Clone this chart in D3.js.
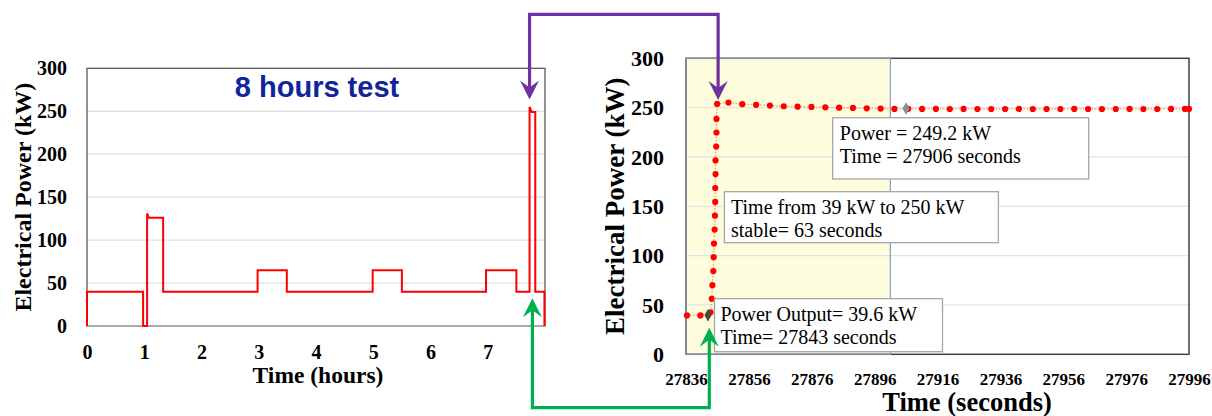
<!DOCTYPE html>
<html><head><meta charset="utf-8">
<script src="https://cdn.jsdelivr.net/npm/d3@7"></script>
<style>body{margin:0;background:#fff}svg{display:block}</style>
</head><body><svg id="c" width="1212" height="416"></svg>
<script>
// ---------- data: left chart (8 hours test) ----------
const leftHours = [0,0,0.98,0.98,1.05,1.05,1.08,1.33,1.33,2.98,2.98,3.49,3.49,4.99,4.99,5.50,5.50,6.97,6.97,7.50,7.50,7.73,7.73,7.77,7.83,7.83,7.99,7.99];
const leftPower = [0,40,40,0,0,131,126,126,40,40,65,65,40,40,65,65,40,40,65,65,40,40,255,249,249,40,40,0];
const leftXTicks = [0,1,2,3,4,5,6,7];
const leftYTicks = [0,50,100,150,200,250,300];

// ---------- data: right chart (zoom on the step) ----------
const rightTime = [27836.3,27840.6,27843.8,27844.2,27844.4,27844.7,27844.8,27844.9,27845.1,27845.2,27845.3,27845.3,27845.4,27845.4,27845.6,27845.7,27845.7,27845.9,
  27849.5,27853.9,27858.3,27862.7,27867.1,27871.5,27875.9,27880.3,27884.7,27889.1,27893.5,27897.9,27902.3,
  27906.7,27911.1,27915.5,27919.9,27924.3,27928.7,27933.1,27937.5,27941.9,27946.3,27950.7,27955.1,27959.5,27963.9,27968.3,27972.7,27977.1,27981.5,27985.9,27990.3,27994.7,27996];
const rightPower = [39.4,39.4,42.5,56.3,70.1,84.3,98.4,112.2,126.4,140.5,154.4,168.5,182.7,196.5,210.6,224.8,238.6,253.8,
  255.1,253.5,252.8,252.1,251.4,251.0,250.7,250.3,250.0,249.7,249.3,249.0,248.7,
  248.8,248.7,248.7,248.6,248.7,248.6,248.6,248.6,248.7,248.6,248.6,248.6,248.7,248.6,248.6,248.6,248.7,248.6,248.6,248.7,248.7,248.7];
const highlightTime = [27843, 27906];
const highlightPower = [39.6, 249.2];
const highlightColor = ["#4a4a3c", "#8c8c8c"];
const rightXTicks = [27836,27856,27876,27896,27916,27936,27956,27976,27996];
const rightYTicks = [0,50,100,150,200,250,300];
const shadeRange = [27836, 27901];
const notes = [
  ["Power = 249.2 kW", "Time = 27906 seconds"],
  ["Time from 39 kW to 250 kW", "stable= 63 seconds"],
  ["Power Output= 39.6 kW", "Time= 27843 seconds"]
];

const svg = d3.select("#c");
svg.append("rect").attr("width",1212).attr("height",416).attr("fill","#fff");
const SERIF = "'Liberation Serif','Times New Roman',serif";
const SANS = "'Liberation Sans',Arial,sans-serif";

// ================= LEFT CHART =================
const L = {x0:87, x1:545, top:68.3, bot:326};
const xL = d3.scaleLinear().domain([0,8]).range([L.x0,L.x1]);
const yL = d3.scaleLinear().domain([0,300]).range([L.bot,L.top]);

const gL = svg.append("g");
gL.selectAll("line.grid").data(leftYTicks.filter(d=>d>0&&d<300)).enter().append("line")
  .attr("x1",L.x0).attr("x2",L.x1).attr("y1",d=>yL(d)).attr("y2",d=>yL(d))
  .attr("stroke","#e0e0e0").attr("stroke-width",1.3);
gL.append("rect").attr("x",L.x0).attr("y",L.top).attr("width",L.x1-L.x0).attr("height",L.bot-L.top)
  .attr("fill","none").attr("stroke","#595959").attr("stroke-width",1.3);
gL.append("line").attr("x1",L.x0).attr("x2",L.x1).attr("y1",L.bot).attr("y2",L.bot)
  .attr("stroke","#b0b0b0").attr("stroke-width",1.5);

const lineL = d3.line().x((d,i)=>xL(leftHours[i])).y((d,i)=>yL(leftPower[i]));
gL.append("path").attr("d",lineL(leftHours)).attr("fill","none").attr("stroke","#ff0000").attr("stroke-width",2);

const axLY = gL.append("g").attr("transform",`translate(${L.x0},0)`)
  .call(d3.axisLeft(yL).tickValues(leftYTicks).tickSize(0).tickPadding(20));
const axLX = gL.append("g").attr("transform",`translate(0,${L.bot})`)
  .call(d3.axisBottom(xL).tickValues(leftXTicks).tickSize(0).tickPadding(19).tickFormat(d3.format("d")));
[axLY,axLX].forEach(a=>{a.select(".domain").remove();
  a.selectAll("text").attr("font-family",SERIF).attr("font-weight","bold").attr("font-size",20).attr("fill","#000");});

gL.append("text").attr("x",317).attr("y",96.5).attr("text-anchor","middle")
  .attr("font-family",SANS).attr("font-weight","bold").attr("font-size",29).attr("fill","#10259a").text("8 hours test");
gL.append("text").attr("x",318).attr("y",383).attr("text-anchor","middle")
  .attr("font-family",SERIF).attr("font-weight","bold").attr("font-size",23.5).text("Time (hours)");
gL.append("text").attr("transform",`translate(31,${(L.top+L.bot)/2}) rotate(-90)`).attr("text-anchor","middle")
  .attr("font-family",SERIF).attr("font-weight","bold").attr("font-size",24).text("Electrical Power (kW)");

// ================= RIGHT CHART =================
const R = {x0:686, x1:1189, top:58.3, bot:354.3};
const xR = d3.scaleLinear().domain([27836,27996]).range([R.x0,R.x1]);
const yR = d3.scaleLinear().domain([0,300]).range([R.bot,R.top]);
const gR = svg.append("g");

gR.append("rect").attr("x",xR(shadeRange[0])).attr("y",R.top)
  .attr("width",xR(shadeRange[1])-xR(shadeRange[0])).attr("height",R.bot-R.top)
  .attr("fill","#fdfcdc");
gR.selectAll("line.grid").data(rightYTicks.filter(d=>d>0&&d<300)).enter().append("line")
  .attr("x1",R.x0).attr("x2",R.x1).attr("y1",d=>yR(d)).attr("y2",d=>yR(d))
  .attr("stroke","#e3e3e3").attr("stroke-width",1.3);
gR.append("rect").attr("x",R.x0).attr("y",R.top).attr("width",R.x1-R.x0).attr("height",R.bot-R.top)
  .attr("fill","none").attr("stroke","#404040").attr("stroke-width",1.5);
gR.append("rect").attr("x",xR(shadeRange[0])).attr("y",R.top)
  .attr("width",xR(shadeRange[1])-xR(shadeRange[0])).attr("height",R.bot-R.top)
  .attr("fill","none").attr("stroke","#8a9cba").attr("stroke-width",1.2);

const lineR = d3.line().x((d,i)=>xR(rightTime[i])).y((d,i)=>yR(rightPower[i]));
gR.append("path").attr("d",lineR(rightTime)).attr("fill","none")
  .attr("stroke","#f5a05a").attr("stroke-width",1.3).attr("stroke-dasharray","1.5,1.6");
gR.selectAll("circle.pt").data(rightTime).enter().append("circle")
  .attr("cx",(d,i)=>xR(rightTime[i])).attr("cy",(d,i)=>yR(rightPower[i])).attr("r",3.1).attr("fill","#ff0000");
gR.selectAll("path.hl").data(highlightTime).enter().append("path")
  .attr("d",d3.symbol().type(d3.symbolDiamond).size(45))
  .attr("transform",(d,i)=>`translate(${xR(highlightTime[i])},${yR(highlightPower[i])})`)
  .attr("fill",(d,i)=>highlightColor[i]);

const axRY = gR.append("g").attr("transform",`translate(${R.x0},0)`)
  .call(d3.axisLeft(yR).tickValues(rightYTicks).tickSize(0).tickPadding(22));
axRY.selectAll("text").attr("font-size",22);
const axRX = gR.append("g").attr("transform",`translate(0,${R.bot})`)
  .call(d3.axisBottom(xR).tickValues(rightXTicks).tickSize(0).tickPadding(18.3).tickFormat(d3.format("d")));
axRX.selectAll("text").attr("font-size",17);
[axRY,axRX].forEach(a=>{a.select(".domain").remove();
  a.selectAll("text").attr("font-family",SERIF).attr("font-weight","bold").attr("fill","#000");});

gR.append("text").attr("x",967).attr("y",410.5).attr("text-anchor","middle")
  .attr("font-family",SERIF).attr("font-weight","bold").attr("font-size",26.5).text("Time (seconds)");
gR.append("text").attr("transform",`translate(624,${(R.top+R.bot)/2}) rotate(-90)`).attr("text-anchor","middle")
  .attr("font-family",SERIF).attr("font-weight","bold").attr("font-size",27).text("Electrical Power (kW)");

// annotation boxes
const boxes = [
  {x:832.7, y:117.7, w:256, h:61.3, tx:839.8, b1:139.5, b2:163.3},
  {x:724.4, y:191.7, w:274, h:51,   tx:731,   b1:214,   b2:237.3},
  {x:714.5, y:298.7, w:228, h:53,   tx:720.4, b1:321,   b2:344}
];
boxes.forEach((b,i)=>{
  gR.append("rect").attr("x",b.x).attr("y",b.y).attr("width",b.w).attr("height",b.h)
    .attr("fill","#fff").attr("stroke","#a6a6a6").attr("stroke-width",1.3);
  gR.append("text").attr("x",b.tx).attr("y",b.b1).attr("font-family",SERIF).attr("font-size",20).attr("fill","#000").text(notes[i][0]);
  gR.append("text").attr("x",b.tx).attr("y",b.b2).attr("font-family",SERIF).attr("font-size",20).attr("fill","#000").text(notes[i][1]);
});

// ================= connecting arrows =================
function arrowHead(g, tx, ty, dir, color){ // dir: 1 = pointing down, -1 = pointing up
  const p = [[tx,ty],[tx-9.5,ty-19*dir],[tx,ty-12*dir],[tx+9.5,ty-19*dir]];
  g.append("path").attr("d","M"+p.map(q=>q.join(",")).join("L")+"Z").attr("fill",color);
}
const gA = svg.append("g");
// purple: peak in left chart -> 250 kW plateau in right chart
const pL = [xL(7.73), yL(leftPower[22]) - 7.5];
const pR = [xR(rightTime[17]) + 1, yR(rightPower[17]) - 4];
const topY = 14.3;
gA.append("path").attr("d",`M${pL[0]},${pL[1]-11}V${topY}H${pR[0]}V${pR[1]-11}`)
  .attr("fill","none").attr("stroke","#7030a0").attr("stroke-width",3.2);
arrowHead(gA,pL[0],pL[1],1,"#7030a0");
arrowHead(gA,pR[0],pR[1],1,"#7030a0");
// green: 40 kW before the step -> 39.6 kW point in right chart
const qL = [xL(7.78), yL(40) + 6.7];
const qR = [xR(highlightTime[0]) + 1.3, yR(highlightPower[0]) + 12.5];
const botY = 407.7;
gA.append("path").attr("d",`M${qL[0]},${qL[1]+11}V${botY}H${qR[0]}V${qR[1]+11}`)
  .attr("fill","none").attr("stroke","#00b050").attr("stroke-width",3.2);
arrowHead(gA,qL[0],qL[1],-1,"#00b050");
arrowHead(gA,qR[0],qR[1],-1,"#00b050");
</script></body></html>
